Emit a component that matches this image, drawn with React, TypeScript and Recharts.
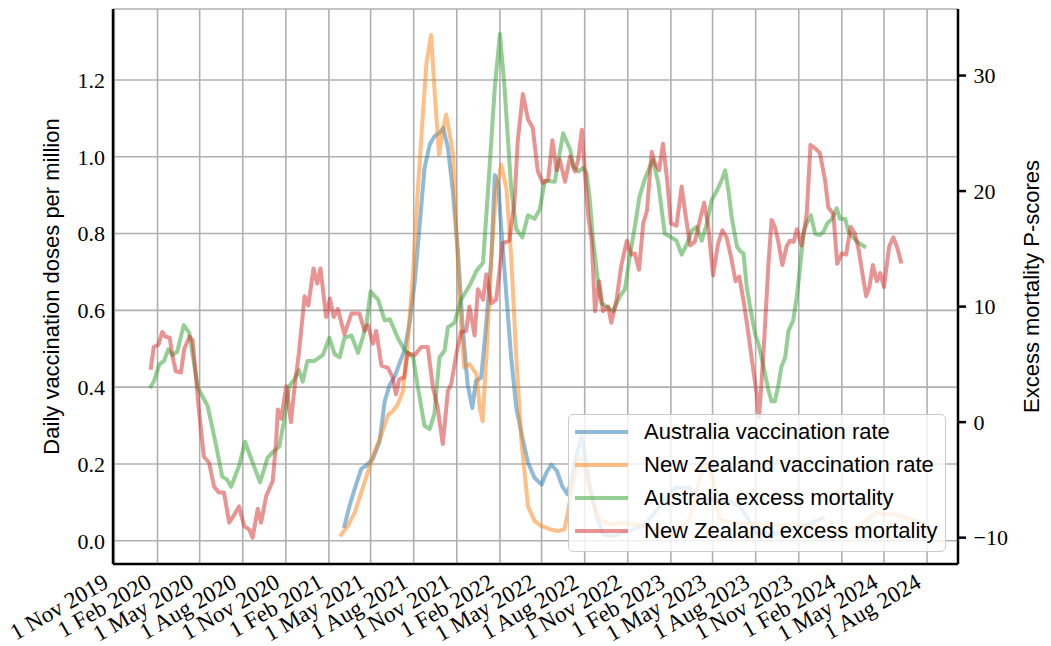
import { LineChart, Line, XAxis, YAxis, CartesianGrid, Legend } from 'recharts';

const SANS = '"Liberation Sans", Arial, sans-serif';
const SERIF = '"Liberation Serif", "Times New Roman", serif';

const seriesNames = [
  'Australia vaccination rate',
  'New Zealand vaccination rate',
  'Australia excess mortality',
  'New Zealand excess mortality',
];
const seriesColors = ['#1f77b4', '#ff7f0e', '#2ca02c', '#d62728'];

const xTickDates = [
  '2019-11-01', '2020-02-01', '2020-05-01', '2020-08-01', '2020-11-01',
  '2021-02-01', '2021-05-01', '2021-08-01', '2021-11-01', '2022-02-01',
  '2022-05-01', '2022-08-01', '2022-11-01', '2023-02-01', '2023-05-01',
  '2023-08-01', '2023-11-01', '2024-02-01', '2024-05-01', '2024-08-01',
];
const xRange = ['2019-10-29', '2024-10-06'];
const leftTicks = [0, 0.2, 0.4, 0.6, 0.8, 1.0, 1.2];
const leftRange = [-0.0606, 1.3847];
const rightTicks = [-10, 0, 10, 20, 30];
const rightRange = [-12.28, 35.76];

// daily vaccination doses per million (smoothed)
const auVaccination: [string, number][] = [
  ['2021-03-06', 0.038], ['2021-03-17', 0.091], ['2021-03-28', 0.135], ['2021-04-11', 0.187],
  ['2021-04-22', 0.196], ['2021-05-06', 0.214], ['2021-05-20', 0.258], ['2021-05-31', 0.363],
  ['2021-06-11', 0.407], ['2021-06-22', 0.429], ['2021-07-01', 0.46], ['2021-07-12', 0.495],
  ['2021-07-23', 0.566], ['2021-08-03', 0.671], ['2021-08-13', 0.812], ['2021-08-24', 0.97],
  ['2021-09-04', 1.031], ['2021-09-14', 1.053], ['2021-09-25', 1.062], ['2021-10-03', 1.075],
  ['2021-10-13', 1.023], ['2021-10-23', 0.917], ['2021-11-03', 0.759], ['2021-11-13', 0.566],
  ['2021-11-24', 0.407], ['2021-12-04', 0.346], ['2021-12-12', 0.416], ['2021-12-23', 0.425],
  ['2022-01-03', 0.566], ['2022-01-14', 0.741], ['2022-01-21', 0.952], ['2022-01-28', 0.935],
  ['2022-02-04', 0.812], ['2022-02-15', 0.636], ['2022-02-25', 0.478], ['2022-03-08', 0.346],
  ['2022-03-22', 0.263], ['2022-04-02', 0.203], ['2022-04-16', 0.164], ['2022-05-01', 0.146],
  ['2022-05-11', 0.177], ['2022-05-22', 0.198], ['2022-06-03', 0.181], ['2022-06-14', 0.142],
  ['2022-06-25', 0.121], ['2022-07-04', 0.159], ['2022-07-14', 0.22], ['2022-07-25', 0.27],
  ['2022-08-03', 0.211], ['2022-08-12', 0.142], ['2022-08-26', 0.064], ['2022-09-09', 0.017],
  ['2022-10-01', 0.012], ['2022-10-22', 0.021], ['2022-12-04', 0.038], ['2023-01-09', 0.09],
  ['2023-02-11', 0.138], ['2023-03-12', 0.138], ['2023-04-10', 0.107], ['2023-05-09', 0.107],
  ['2023-06-07', 0.103], ['2023-06-29', 0.089], ['2023-08-04', 0.019], ['2023-09-16', 0.019],
  ['2023-11-27', 0.046], ['2023-12-22', 0.059],
];

const nzVaccination: [string, number][] = [
  ['2021-02-27', 0.016], ['2021-03-13', 0.038], ['2021-03-28', 0.073], ['2021-04-11', 0.126],
  ['2021-04-25', 0.179], ['2021-05-09', 0.231], ['2021-05-24', 0.276], ['2021-06-07', 0.328],
  ['2021-06-17', 0.337], ['2021-06-28', 0.355], ['2021-07-09', 0.39], ['2021-07-19', 0.513],
  ['2021-07-30', 0.688], ['2021-08-10', 0.917], ['2021-08-21', 1.119], ['2021-08-28', 1.242],
  ['2021-09-07', 1.317], ['2021-09-14', 1.181], ['2021-09-24', 1.005], ['2021-10-02', 1.066],
  ['2021-10-09', 1.11], ['2021-10-17', 1.058], ['2021-10-24', 1.005], ['2021-10-30', 0.829],
  ['2021-11-10', 0.566], ['2021-11-17', 0.451], ['2021-11-28', 0.46], ['2021-12-13', 0.434],
  ['2021-12-20', 0.346], ['2021-12-26', 0.311], ['2022-01-03', 0.478], ['2022-01-14', 0.741],
  ['2022-01-24', 0.917], ['2022-02-04', 0.979], ['2022-02-15', 0.917], ['2022-02-25', 0.741],
  ['2022-03-08', 0.478], ['2022-03-19', 0.258], ['2022-04-02', 0.09], ['2022-04-16', 0.051],
  ['2022-05-01', 0.038], ['2022-05-18', 0.03], ['2022-06-05', 0.025], ['2022-06-19', 0.03],
  ['2022-06-26', 0.073], ['2022-07-07', 0.151], ['2022-07-18', 0.211], ['2022-07-25', 0.22],
  ['2022-08-05', 0.168], ['2022-08-19', 0.099], ['2022-09-02', 0.056], ['2022-09-24', 0.043],
  ['2022-10-22', 0.047], ['2022-12-11', 0.038], ['2023-02-04', 0.011], ['2023-03-12', 0.054],
  ['2023-04-03', 0.16], ['2023-04-17', 0.203], ['2023-05-02', 0.16], ['2023-05-16', 0.054],
  ['2023-06-21', 0.046], ['2023-08-18', 0.041], ['2023-10-15', 0.041], ['2023-12-12', 0.037],
  ['2024-02-01', 0.019], ['2024-03-08', 0.037], ['2024-04-13', 0.072], ['2024-05-26', 0.067],
  ['2024-07-02', 0.054], ['2024-07-15', 0.05],
];

// excess mortality P-scores (%)
const auExcess: [string, number][] = [
  ['2020-01-18', 3.1], ['2020-01-24', 3.5], ['2020-02-05', 5.0], ['2020-02-15', 5.3],
  ['2020-02-24', 6.3], ['2020-03-04', 5.8], ['2020-03-14', 6.1], ['2020-03-28', 8.4],
  ['2020-04-09', 7.7], ['2020-04-27', 3.0], ['2020-05-18', 1.4], ['2020-06-04', -1.8],
  ['2020-06-18', -4.7], ['2020-06-29', -5.0], ['2020-07-07', -5.6], ['2020-07-24', -3.8],
  ['2020-08-06', -1.7], ['2020-08-22', -3.5], ['2020-09-07', -5.2], ['2020-09-23', -3.1],
  ['2020-10-04', -2.6], ['2020-10-18', -2.1], ['2020-10-29', 0.3], ['2020-11-08', 3.1],
  ['2020-11-19', 3.7], ['2020-11-29', 4.5], ['2020-12-07', 3.5], ['2020-12-17', 5.3],
  ['2021-01-01', 5.3], ['2021-01-19', 5.8], ['2021-02-02', 7.3], ['2021-02-13', 5.9],
  ['2021-02-24', 5.6], ['2021-03-06', 7.3], ['2021-03-21', 7.5], ['2021-04-04', 6.0],
  ['2021-04-14', 7.3], ['2021-04-22', 8.5], ['2021-05-01', 11.3], ['2021-05-17', 10.6],
  ['2021-05-31', 8.8], ['2021-06-11', 8.9], ['2021-06-29', 7.2], ['2021-07-13', 6.2],
  ['2021-07-31', 5.6], ['2021-08-10', 3.0], ['2021-08-24', -0.3], ['2021-09-04', -0.6],
  ['2021-09-14', 0.7], ['2021-09-25', 5.6], ['2021-10-06', 6.2], ['2021-10-13', 8.2],
  ['2021-10-27', 8.6], ['2021-11-10', 10.6], ['2021-11-28', 11.8], ['2021-12-13', 13.1],
  ['2021-12-27', 13.8], ['2022-01-07', 20.3], ['2022-01-21', 28.9], ['2022-02-01', 33.6],
  ['2022-02-11', 28.9], ['2022-02-25', 20.3], ['2022-03-08', 16.7], ['2022-03-21', 16.0],
  ['2022-04-02', 17.9], ['2022-04-16', 17.6], ['2022-04-27', 18.4], ['2022-05-08', 20.9],
  ['2022-05-29', 20.8], ['2022-06-16', 25.0], ['2022-07-01', 23.6], ['2022-07-08', 22.1],
  ['2022-07-19', 21.7], ['2022-07-29', 22.0], ['2022-08-05', 21.6], ['2022-08-12', 19.2],
  ['2022-08-19', 15.7], ['2022-08-30', 12.0], ['2022-09-06', 10.3], ['2022-09-17', 10.0],
  ['2022-10-01', 9.6], ['2022-10-15', 10.9], ['2022-10-26', 11.5], ['2022-11-05', 14.3],
  ['2022-11-16', 16.9], ['2022-11-26', 19.5], ['2022-12-07', 21.0], ['2022-12-18', 22.1],
  ['2022-12-25', 22.7], ['2023-01-05', 20.7], ['2023-01-19', 16.3], ['2023-02-02', 16.0],
  ['2023-02-13', 15.7], ['2023-02-24', 14.5], ['2023-03-07', 15.4], ['2023-03-18', 16.6],
  ['2023-03-28', 16.9], ['2023-04-08', 15.7], ['2023-04-19', 17.2], ['2023-04-29', 19.2],
  ['2023-05-10', 20.0], ['2023-05-21', 21.0], ['2023-05-28', 21.8], ['2023-06-04', 20.0],
  ['2023-06-11', 17.7], ['2023-06-22', 15.2], ['2023-06-29', 14.8], ['2023-07-06', 14.6],
  ['2023-07-13', 11.7], ['2023-07-20', 10.0], ['2023-07-31', 7.6], ['2023-08-07', 6.8],
  ['2023-08-18', 4.8], ['2023-08-28', 2.8], ['2023-09-04', 1.8], ['2023-09-11', 1.8],
  ['2023-09-18', 3.1], ['2023-09-25', 4.8], ['2023-10-03', 5.6], ['2023-10-10', 7.9],
  ['2023-10-20', 8.8], ['2023-10-28', 10.9], ['2023-11-04', 13.5], ['2023-11-11', 16.3],
  ['2023-11-18', 17.2], ['2023-11-27', 17.9], ['2023-12-06', 16.3], ['2023-12-16', 16.2],
  ['2023-12-24', 16.5], ['2024-01-01', 17.2], ['2024-01-11', 17.6], ['2024-01-21', 18.5],
  ['2024-01-28', 17.6], ['2024-02-08', 17.6], ['2024-02-15', 16.5], ['2024-02-25', 16.0],
  ['2024-03-08', 15.5], ['2024-03-20', 15.2],
];

const nzExcess: [string, number][] = [
  ['2020-01-18', 4.7], ['2020-01-24', 6.5], ['2020-02-03', 6.7], ['2020-02-11', 7.8],
  ['2020-02-18', 7.4], ['2020-02-27', 7.3], ['2020-03-04', 5.7], ['2020-03-11', 4.4],
  ['2020-03-22', 4.3], ['2020-03-29', 6.3], ['2020-04-09', 7.4], ['2020-04-16', 7.1],
  ['2020-04-23', 4.0], ['2020-04-30', 0.8], ['2020-05-10', -3.0], ['2020-05-21', -3.5],
  ['2020-06-01', -5.6], ['2020-06-11', -6.1], ['2020-06-22', -6.1], ['2020-07-03', -8.7],
  ['2020-07-14', -8.0], ['2020-07-24', -7.3], ['2020-08-04', -9.0], ['2020-08-15', -9.3],
  ['2020-08-22', -10.0], ['2020-09-02', -7.5], ['2020-09-09', -8.7], ['2020-09-20', -6.4],
  ['2020-10-04', -5.1], ['2020-10-11', -1.8], ['2020-10-15', 1.1], ['2020-10-22', 0.3],
  ['2020-11-02', 3.1], ['2020-11-12', 0.0], ['2020-11-19', 2.8], ['2020-11-29', 6.0],
  ['2020-12-11', 10.9], ['2020-12-19', 10.1], ['2020-12-30', 13.3], ['2021-01-07', 12.0],
  ['2021-01-14', 13.3], ['2021-01-26', 9.1], ['2021-02-03', 10.7], ['2021-02-11', 9.1],
  ['2021-02-20', 9.8], ['2021-03-06', 7.6], ['2021-03-21', 9.4], ['2021-04-07', 9.4],
  ['2021-04-18', 7.9], ['2021-04-25', 8.4], ['2021-05-06', 6.8], ['2021-05-13', 7.9],
  ['2021-05-24', 4.9], ['2021-06-07', 4.7], ['2021-06-17', 3.9], ['2021-06-24', 2.4],
  ['2021-07-01', 3.7], ['2021-07-12', 3.9], ['2021-07-19', 6.0], ['2021-08-03', 5.8],
  ['2021-08-17', 6.5], ['2021-08-31', 6.5], ['2021-09-11', 3.0], ['2021-09-21', 1.3],
  ['2021-10-02', -1.9], ['2021-10-13', 2.7], ['2021-10-20', 3.3], ['2021-10-31', 5.9],
  ['2021-11-10', 7.8], ['2021-11-21', 7.9], ['2021-11-28', 10.0], ['2021-12-09', 7.5],
  ['2021-12-16', 11.5], ['2021-12-27', 10.6], ['2022-01-03', 12.8], ['2022-01-14', 10.3],
  ['2022-01-24', 10.6], ['2022-02-07', 15.5], ['2022-02-21', 15.7], ['2022-03-04', 19.0],
  ['2022-03-11', 24.3], ['2022-03-22', 28.4], ['2022-04-02', 26.2], ['2022-04-12', 25.5],
  ['2022-04-23', 21.7], ['2022-05-04', 20.7], ['2022-05-15', 21.0], ['2022-05-24', 24.4],
  ['2022-06-02', 21.8], ['2022-06-09', 22.7], ['2022-06-20', 20.8], ['2022-07-01', 23.0],
  ['2022-07-11', 21.7], ['2022-07-18', 22.7], ['2022-07-26', 25.3], ['2022-08-02', 21.3],
  ['2022-08-09', 17.7], ['2022-08-16', 15.7], ['2022-08-23', 9.6], ['2022-09-01', 12.2],
  ['2022-09-09', 9.6], ['2022-09-20', 10.0], ['2022-09-27', 8.6], ['2022-10-08', 10.6],
  ['2022-10-18', 13.5], ['2022-10-30', 15.7], ['2022-11-09', 14.5], ['2022-11-16', 14.6],
  ['2022-11-25', 13.2], ['2022-12-04', 17.2], ['2022-12-12', 18.3], ['2022-12-22', 23.4],
  ['2022-12-29', 22.4], ['2023-01-07', 21.8], ['2023-01-15', 24.1], ['2023-01-24', 21.0],
  ['2023-02-01', 17.2], ['2023-02-13', 17.0], ['2023-02-24', 20.4], ['2023-03-03', 18.3],
  ['2023-03-14', 15.3], ['2023-03-24', 15.6], ['2023-04-04', 17.5], ['2023-04-13', 19.0],
  ['2023-04-22', 16.9], ['2023-05-02', 12.7], ['2023-05-13', 15.5], ['2023-05-22', 16.6],
  ['2023-05-31', 16.0], ['2023-06-10', 14.2], ['2023-06-19', 12.2], ['2023-06-27', 12.6],
  ['2023-07-07', 10.3], ['2023-07-16', 7.8], ['2023-07-26', 4.8], ['2023-08-03', 2.5],
  ['2023-08-08', 0.4], ['2023-08-13', 3.1], ['2023-08-20', 7.6], ['2023-08-28', 13.5],
  ['2023-09-04', 17.5], ['2023-09-11', 16.9], ['2023-09-18', 15.7], ['2023-09-27', 13.6],
  ['2023-10-06', 15.2], ['2023-10-13', 15.7], ['2023-10-21', 15.6], ['2023-10-28', 16.7],
  ['2023-11-07', 15.3], ['2023-11-18', 18.0], ['2023-11-26', 24.0], ['2023-12-06', 23.7],
  ['2023-12-16', 23.3], ['2023-12-27', 21.0], ['2024-01-03', 18.6], ['2024-01-14', 18.0],
  ['2024-01-22', 13.7], ['2024-02-01', 14.6], ['2024-02-10', 14.5], ['2024-02-20', 16.9],
  ['2024-02-29', 16.3], ['2024-03-08', 14.9], ['2024-03-17', 12.6], ['2024-03-24', 10.9],
  ['2024-03-31', 11.7], ['2024-04-07', 13.6], ['2024-04-16', 12.2], ['2024-04-23', 12.9],
  ['2024-05-01', 11.7], ['2024-05-12', 15.2], ['2024-05-21', 16.0], ['2024-05-30', 15.0],
  ['2024-06-06', 13.9],
];

const MONTHS = ['Jan', 'Feb', 'Mar', 'Apr', 'May', 'Jun', 'Jul', 'Aug', 'Sep', 'Oct', 'Nov', 'Dec'];

const toPoints = (rows: [string, number][]) => rows.map(([d, v]) => ({ t: Date.parse(d), v }));

const fmtDate = (t: number) => {
  const d = new Date(t);
  return `${d.getUTCDate()} ${MONTHS[d.getUTCMonth()]} ${d.getUTCFullYear()}`;
};

const fmtNum = (v: number) => (v < 0 ? `\u2212${-v}` : `${v}`);

function DateTick(props: any) {
  const { x, y, payload } = props;
  const tx = x - 4.5;
  const ty = y + 22.5;
  return (
    <text x={tx} y={ty} transform={`rotate(-30 ${tx} ${ty})`} textAnchor="end"
      fontFamily={SERIF} fontSize={23} fill="#000">
      {fmtDate(payload.value)}
    </text>
  );
}

function AxisTitle(props: any) {
  const { viewBox, dx, text } = props;
  const cx = viewBox.x + dx;
  const cy = viewBox.y + viewBox.height / 2;
  return (
    <text x={cx} y={cy} transform={`rotate(-90 ${cx} ${cy})`} textAnchor="middle"
      fontFamily={SANS} fontSize={22} fill="#000">
      {text}
    </text>
  );
}

function LegendBox(props: any) {
  const items = [...(props.payload || [])].sort(
    (a: any, b: any) => seriesNames.indexOf(a.value) - seriesNames.indexOf(b.value),
  );
  return (
    <div style={{
      boxSizing: 'border-box', width: 378, height: 138, border: '1.5px solid #cccccc',
      borderRadius: 5, background: 'rgba(255,255,255,0.8)', padding: '0 0 5px 6px',
      fontFamily: SANS, fontSize: 22, color: '#000',
    }}>
      {items.map((e: any) => (
        <div key={e.value} style={{ display: 'flex', alignItems: 'center', height: 33.2 }}>
          <svg width={53} height={10} style={{ flex: 'none' }}>
            <line x1={0} y1={5} x2={53} y2={5} stroke={e.color} strokeWidth={4} strokeOpacity={0.5} />
          </svg>
          <span style={{ marginLeft: 16, whiteSpace: 'nowrap' }}>{e.value}</span>
        </div>
      ))}
    </div>
  );
}

export default function App() {
  const xDomain = [Date.parse(xRange[0]), Date.parse(xRange[1])];
  const xTicks = xTickDates.map((d) => Date.parse(d));
  const series = [
    { data: toPoints(auVaccination), axis: 'left' },
    { data: toPoints(nzVaccination), axis: 'left' },
    { data: toPoints(auExcess), axis: 'right' },
    { data: toPoints(nzExcess), axis: 'right' },
  ];
  const spine = { stroke: '#000', strokeWidth: 2.5 };

  return (
    <div style={{ position: 'absolute', left: 0, top: 0, width: 1051, height: 646, background: '#fff' }}>
      <LineChart width={1051} height={646} margin={{ top: 9, right: 0, bottom: 0, left: 0 }}>
        <CartesianGrid xAxisId="bottom" yAxisId="left" stroke="#b0b0b0" strokeWidth={1.6} />
        <XAxis xAxisId="bottom" dataKey="t" type="number" domain={xDomain} allowDataOverflow
          ticks={xTicks} interval={0} height={82} tickSize={0} tickMargin={0} tickLine={false}
          axisLine={spine} tick={(p: any) => <DateTick {...p} />} />
        <XAxis xAxisId="top" orientation="top" dataKey="t" type="number" domain={xDomain}
          allowDataOverflow height={0} tick={false} tickLine={false} axisLine={spine} />
        <YAxis yAxisId="left" type="number" domain={leftRange} allowDataOverflow ticks={leftTicks}
          interval={0} width={113} tickSize={0} tickMargin={8} tickLine={false} axisLine={spine}
          tickFormatter={(v: number) => v.toFixed(1)}
          tick={{ fontFamily: SERIF, fontSize: 22, fill: '#000' }}
          label={(p: any) => <AxisTitle {...p} dx={59} text="Daily vaccination doses per million" />} />
        <YAxis yAxisId="right" orientation="right" type="number" domain={rightRange} allowDataOverflow
          ticks={rightTicks} interval={0} width={93} tickSize={8} tickMargin={7.5}
          tickLine={{ stroke: '#000', strokeWidth: 2.5 }} axisLine={spine}
          tickFormatter={fmtNum}
          tick={{ fontFamily: SERIF, fontSize: 22, fill: '#000', textAnchor: 'start' }}
          label={(p: any) => <AxisTitle {...p} dx={81} text="Excess mortality P-scores" />} />
        {series.map((s, i) => (
          <Line key={seriesNames[i]} name={seriesNames[i]} data={s.data} dataKey="v"
            xAxisId="bottom" yAxisId={s.axis} type="linear" stroke={seriesColors[i]}
            strokeOpacity={0.5} strokeWidth={4} strokeLinejoin="round" strokeLinecap="square"
            dot={false} activeDot={false} isAnimationActive={false} />
        ))}
        <Legend layout="horizontal" verticalAlign="middle" align="center" width={378} height={138}
          wrapperStyle={{ left: 568, top: 414, width: 378, height: 138 }}
          content={(p: any) => <LegendBox {...p} />} />
      </LineChart>
    </div>
  );
}
